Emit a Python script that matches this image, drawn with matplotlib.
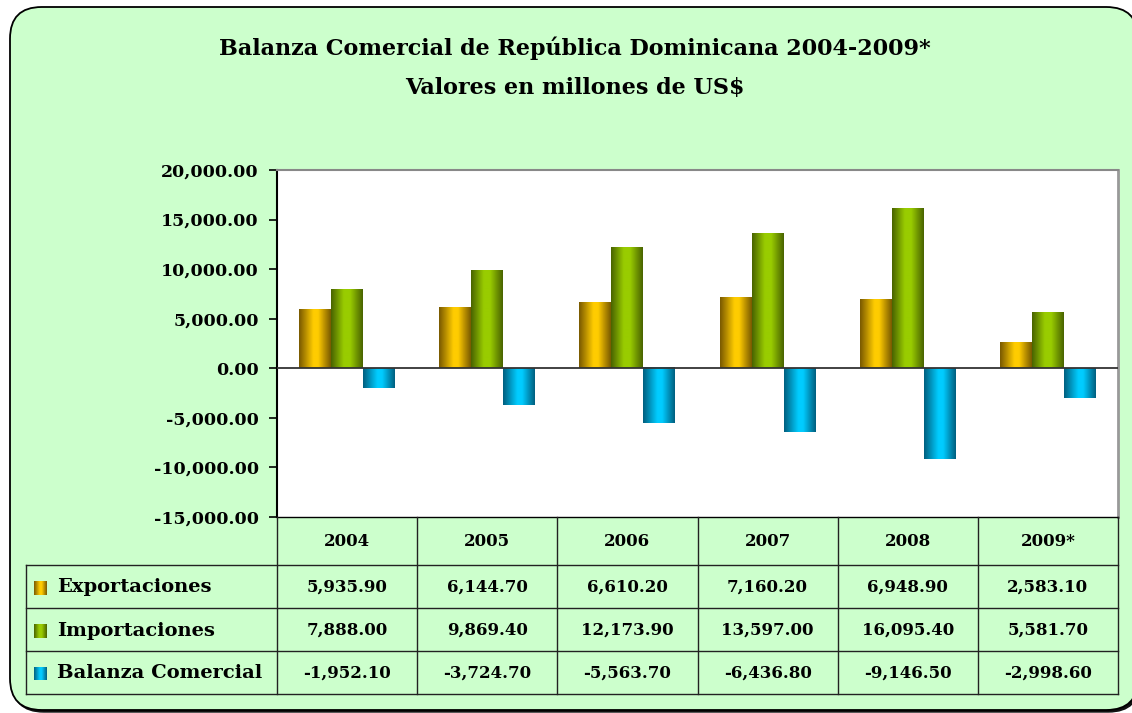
import numpy as np
import matplotlib
matplotlib.use("Agg")
import matplotlib.pyplot as plt
from matplotlib.patches import FancyBboxPatch
from matplotlib.colors import LinearSegmentedColormap
from matplotlib.ticker import FuncFormatter, MultipleLocator
from matplotlib.lines import Line2D

years = ["2004", "2005", "2006", "2007", "2008", "2009*"]
series_names = ["Exportaciones", "Importaciones", "Balanza Comercial"]
exportaciones = [5935.90, 6144.70, 6610.20, 7160.20, 6948.90, 2583.10]
importaciones = [7888.00, 9869.40, 12173.90, 13597.00, 16095.40, 5581.70]
balanza = [-1952.10, -3724.70, -5563.70, -6436.80, -9146.50, -2998.60]
title_line1 = "Balanza Comercial de República Dominicana 2004-2009*"
title_line2 = "Valores en millones de US$"

W, H = 1132, 713
FONT = "DejaVu Serif"
BG = "#CCFFCC"

fig = plt.figure(figsize=(W / 100, H / 100), dpi=100)
fig.patch.set_facecolor("white")

def fx(x):
    return x / W

def fy(y):
    return 1 - y / H

# shadow + rounded background (box runs slightly past the right edge)
shadow = FancyBboxPatch((fx(12), fy(712)), fx(1140) - fx(12), fy(9) - fy(712),
                        boxstyle="round,pad=0,rounding_size=0.028",
                        transform=fig.transFigure, facecolor="#111111", edgecolor="#111111",
                        linewidth=1.0, mutation_aspect=W / H, zorder=-11)
fig.add_artist(shadow)
bg = FancyBboxPatch((fx(10), fy(710)), fx(1138) - fx(10), fy(7) - fy(710),
                    boxstyle="round,pad=0,rounding_size=0.028",
                    transform=fig.transFigure, facecolor=BG, edgecolor="black",
                    linewidth=1.3, mutation_aspect=W / H, zorder=-10)
fig.add_artist(bg)

# titles
fig.text(fx(575), fy(48), title_line1, ha="center", va="center",
         fontsize=16, fontweight="bold", family=FONT)
fig.text(fx(575), fy(88), title_line2, ha="center", va="center",
         fontsize=16, fontweight="bold", family=FONT)

# axes
L, R, T, B = 277, 1118, 170, 517
ax = fig.add_axes([fx(L), fy(B), fx(R) - fx(L), fy(T) - fy(B)])
ax.set_zorder(1)
ax.set_facecolor("white")
ax.yaxis.set_major_locator(MultipleLocator(5000))
ax.yaxis.set_major_formatter(FuncFormatter(lambda v, p: f"{v:,.2f}"))
ax.tick_params(axis="y", direction="out", length=6, width=1.2, pad=7,
               labelsize=12.5)
ax.set_xticks([])
ax.spines["left"].set_color("black")
ax.spines["left"].set_linewidth(1.5)
ax.spines["top"].set_color("#888888")
ax.spines["top"].set_linewidth(1.5)
ax.spines["right"].set_color("#999999")
ax.spines["right"].set_linewidth(2)
ax.spines["bottom"].set_color("black")
ax.spines["bottom"].set_linewidth(1.0)
ax.axhline(0, color="#333333", linewidth=1.3, zorder=5)

cmaps = [
    LinearSegmentedColormap.from_list("o", [(0, "#7A5A00"), (0.45, "#FFCC00"), (0.6, "#FFCC00"), (1, "#7A5A00")]),
    LinearSegmentedColormap.from_list("g", [(0, "#4A6400"), (0.4, "#99CC00"), (0.6, "#99CC00"), (1, "#4A6400")]),
    LinearSegmentedColormap.from_list("b", [(0, "#006080"), (0.45, "#00CCFF"), (0.6, "#00CCFF"), (1, "#006080")]),
]
all_series = [exportaciones, importaciones, balanza]
bw = 0.228
x = np.arange(len(years))
grad = np.linspace(0, 1, 64).reshape(1, -1)
for i, vals in enumerate(all_series):
    bars = ax.bar(x + (i - 1) * bw, vals, width=bw, color="none", linewidth=0, zorder=3)
    for b in bars:
        x0, y0 = b.get_x(), b.get_y()
        w, h = b.get_width(), b.get_height()
        ax.imshow(grad, cmap=cmaps[i], aspect="auto",
                  extent=(x0, x0 + w, min(y0, y0 + h), max(y0, y0 + h)),
                  zorder=3, interpolation="bilinear")
ax.set_xlim(-0.5, len(years) - 0.5)
ax.set_ylim(-15000, 20000)
for lab in ax.get_yticklabels():
    lab.set_family(FONT)
    lab.set_fontweight("bold")

# table
col_edges = [L + (R - L) * k / len(years) for k in range(len(years) + 1)]
row_y = [517, 565, 608, 651, 694]
lw = 1.0

def hline(x0, x1, y):
    fig.add_artist(Line2D([fx(x0), fx(x1)], [fy(y), fy(y)], color="#222222", lw=lw,
                          transform=fig.transFigure))

def vline(x, y0, y1):
    fig.add_artist(Line2D([fx(x), fx(x)], [fy(y0), fy(y1)], color="#222222", lw=lw,
                          transform=fig.transFigure))

for yy in row_y[1:]:
    hline(26, R, yy)
for xx in col_edges:
    vline(xx, row_y[0], row_y[-1])
vline(26, row_y[1], row_y[-1])

def fmt(v):
    return f"{v:,.2f}"

for j, yr in enumerate(years):
    cx = (col_edges[j] + col_edges[j + 1]) / 2
    fig.text(fx(cx), fy((row_y[0] + row_y[1]) / 2 + 1), yr, ha="center", va="center",
             fontsize=12, fontweight="bold", family=FONT)
    for i, vals in enumerate(all_series):
        cy = (row_y[i + 1] + row_y[i + 2]) / 2
        fig.text(fx(cx), fy(cy + 1), fmt(vals[j]), ha="center", va="center",
                 fontsize=12, fontweight="bold", family=FONT)

for i, name in enumerate(series_names):
    cy = (row_y[i + 1] + row_y[i + 2]) / 2
    kax = fig.add_axes([fx(34), fy(cy + 8), 13 / W, 14 / H])
    kax.imshow(grad, cmap=cmaps[i], aspect="auto", interpolation="bilinear")
    kax.set_axis_off()
    fig.text(fx(57), fy(cy + 1), name, ha="left", va="center",
             fontsize=14, fontweight="bold", family=FONT)

fig.savefig("out.png", dpi=100, facecolor=fig.get_facecolor())
